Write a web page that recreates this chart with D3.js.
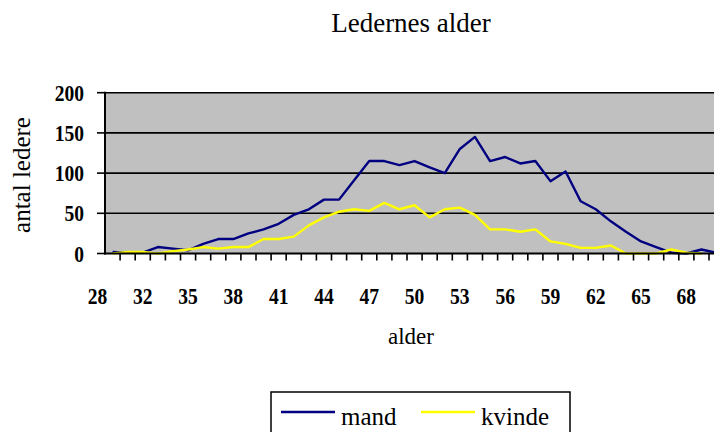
<!DOCTYPE html>
<html>
<head>
<meta charset="utf-8">
<script src="https://cdn.jsdelivr.net/npm/d3@7"></script>
<style>
  body { margin: 0; background: #fff; }
  svg { display: block; }
  text { font-family: "Liberation Serif", serif; }
</style>
</head>
<body>
<div id="chart"></div>
<script>
// ages on the category axis (one age is missing in the source, so 28,29,30,32...)
const ages = [28, 29, 30, 32, 33, 34, 35, 36, 37, 38, 39, 40, 41, 42, 43, 44, 45, 46, 47, 48,
  49, 50, 51, 52, 53, 54, 55, 56, 57, 58, 59, 60, 61, 62, 63, 64, 65, 66, 67, 68, 69]
const mand = [2, 1, 1, 8, 6, 4, 12, 18, 18, 25, 30, 37, 48, 55, 67, 67, 91, 115, 115, 110,
  115, 107, 100, 130, 145, 115, 120, 112, 115, 90, 102, 65, 55, 40, 27, 15, 8, 1, 0, 5, 1]
const kvinde = [0, 2, 2, 0, 3, 5, 8, 6, 8, 8, 18, 18, 21, 35, 45, 52, 55, 53, 63, 55,
  60, 45, 55, 57, 48, 30, 30, 27, 30, 15, 12, 7, 7, 10, 0, 0, 0, 5, 1, 0, null]
const yTicks = [0, 50, 100, 150, 200]

const width = 714
const height = 432
const plotLeft = 105
const plotTop = 92.7
const plotBottom = 253.5
const band = 15.1

const svg = d3.select('#chart').append('svg')
  .attr('width', width)
  .attr('height', height)

const x = d3.scaleBand()
  .domain(ages)
  .range([plotLeft, plotLeft + band * ages.length])
  .paddingInner(0).paddingOuter(0)

const y = d3.scaleLinear().domain([0, 200]).range([plotBottom, plotTop])

const cx = a => x(a) + x.bandwidth() / 2
const plotRight = x.range()[1]

// title
svg.append('text')
  .attr('x', 411).attr('y', 32)
  .attr('text-anchor', 'middle')
  .style('font-size', '27px')
  .text('Ledernes alder')

// plot background
svg.append('rect')
  .attr('x', plotLeft).attr('y', plotTop)
  .attr('width', plotRight - plotLeft).attr('height', plotBottom - plotTop)
  .attr('fill', '#c0c0c0')

// gridlines
svg.append('g').selectAll('line')
  .data(yTicks.filter(d => d > 0))
  .join('line')
  .attr('x1', plotLeft).attr('x2', plotRight)
  .attr('y1', d => y(d)).attr('y2', d => y(d))
  .attr('stroke', '#000').attr('stroke-width', 1.6)

// series lines
const line = d3.line()
  .defined(d => d[1] != null)
  .x(d => cx(d[0]))
  .y(d => y(d[1]))

svg.append('path')
  .datum(ages.map((a, i) => [a, mand[i]]))
  .attr('d', line)
  .attr('fill', 'none').attr('stroke', '#000080').attr('stroke-width', 2.4)
  .attr('stroke-linejoin', 'round')

svg.append('path')
  .datum(ages.map((a, i) => [a, kvinde[i]]))
  .attr('d', line)
  .attr('fill', 'none').attr('stroke', '#ffff00').attr('stroke-width', 2.4)
  .attr('stroke-linejoin', 'round')

// axes lines
svg.append('line')
  .attr('x1', plotLeft).attr('x2', plotLeft).attr('y1', plotTop - 1).attr('y2', plotBottom + 1)
  .attr('stroke', '#000').attr('stroke-width', 2)
svg.append('line')
  .attr('x1', plotLeft - 1).attr('x2', plotRight).attr('y1', plotBottom).attr('y2', plotBottom)
  .attr('stroke', '#000').attr('stroke-width', 2)

// y ticks + labels
const yg = svg.append('g')
yg.selectAll('line')
  .data(yTicks)
  .join('line')
  .attr('x1', plotLeft - 8).attr('x2', plotLeft)
  .attr('y1', d => y(d)).attr('y2', d => y(d))
  .attr('stroke', '#000').attr('stroke-width', 1.6)
yg.selectAll('text')
  .data(yTicks)
  .join('text')
  .attr('transform', d => `translate(84,${y(d) + 8}) scale(0.85,1)`)
  .attr('text-anchor', 'end')
  .style('font-weight', 'bold').style('font-size', '23px')
  .text(d => d)

// x ticks at band boundaries
svg.append('g').selectAll('line')
  .data(ages.slice(1))
  .join('line')
  .attr('x1', d => x(d)).attr('x2', d => x(d))
  .attr('y1', plotBottom).attr('y2', plotBottom + 7)
  .attr('stroke', '#000').attr('stroke-width', 1.6)

// x labels every third category (shifted one band left, as in the source)
svg.append('g').selectAll('text')
  .data(ages.filter((a, i) => i % 3 === 0))
  .join('text')
  .attr('transform', d => `translate(${cx(d) - band},304) scale(0.85,1)`)
  .attr('text-anchor', 'middle')
  .style('font-weight', 'bold').style('font-size', '23px')
  .text(d => d)

// axis titles
svg.append('text')
  .attr('x', 411).attr('y', 344)
  .attr('text-anchor', 'middle')
  .style('font-size', '23px')
  .text('alder')

svg.append('text')
  .attr('transform', 'translate(30,175) rotate(-90)')
  .attr('text-anchor', 'middle')
  .style('font-size', '25px')
  .text('antal ledere')

// legend (box runs past the bottom edge, as in the source)
const lg = svg.append('g')
lg.append('rect')
  .attr('x', 271).attr('y', 392).attr('width', 299).attr('height', 50)
  .attr('fill', '#fff').attr('stroke', '#000').attr('stroke-width', 1.5)

const legendItems = [
  { name: 'mand', color: '#000080', x0: 281 },
  { name: 'kvinde', color: '#ffff00', x0: 421 }
]
legendItems.forEach(it => {
  lg.append('line')
    .attr('x1', it.x0).attr('x2', it.x0 + 54)
    .attr('y1', 412).attr('y2', 412)
    .attr('stroke', it.color).attr('stroke-width', 2.4)
  lg.append('text')
    .attr('x', it.x0 + 60).attr('y', 425)
    .style('font-size', '25px')
    .text(it.name)
})
</script>
</body>
</html>
